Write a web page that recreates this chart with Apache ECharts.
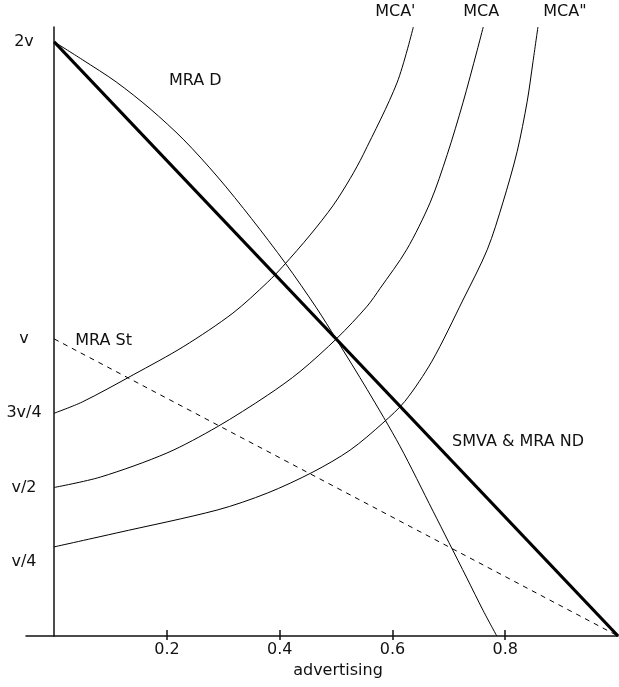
<!DOCTYPE html>
<html>
<head>
<meta charset="utf-8">
<script src="https://cdn.jsdelivr.net/npm/echarts@6/dist/echarts.min.js"></script>
<style>
html,body{margin:0;padding:0;background:#fff;}
#chart{width:619px;height:687px;}
</style>
</head>
<body>
<div id="chart"></div>
<script>
// ---- data (x = advertising, y in units of v) ----
const smvaMraNd = [[0, 2], [1, 0]];
const mraSt = [[0, 1], [1, 0]];
const mraD = [[0, 2], [0.05, 1.94], [0.11, 1.865], [0.17, 1.775], [0.23, 1.67], [0.29, 1.545], [0.35, 1.405], [0.41, 1.255], [0.465, 1.105], [0.5, 1.0], [0.555, 0.83], [0.613, 0.64], [0.672, 0.42], [0.70, 0.315], [0.732, 0.195], [0.761, 0.085], [0.785, 0]];
const mcaPrime = [[0, 0.75], [0.05, 0.788], [0.14, 0.879], [0.23, 0.975], [0.317, 1.087], [0.378, 1.19], [0.406, 1.245], [0.454, 1.35], [0.495, 1.45], [0.525, 1.54], [0.548, 1.62], [0.608, 1.862], [0.637, 2.05]];
const mca = [[0, 0.5], [0.082, 0.535], [0.2, 0.616], [0.289, 0.704], [0.378, 0.81], [0.436, 0.89], [0.502, 1.003], [0.555, 1.11], [0.578, 1.17], [0.625, 1.30], [0.667, 1.46], [0.697, 1.62], [0.725, 1.795], [0.75, 1.97], [0.761, 2.05]];
const mcaDouble = [[0, 0.3], [0.111, 0.347], [0.289, 0.424], [0.378, 0.481], [0.459, 0.552], [0.525, 0.626], [0.583, 0.717], [0.622, 0.79], [0.67, 0.925], [0.725, 1.131], [0.768, 1.30], [0.796, 1.46], [0.821, 1.63], [0.839, 1.8], [0.849, 1.93], [0.858, 2.05]];
const xTickValues = [0.2, 0.4, 0.6, 0.8];
const yTickValues = [0.25, 0.5, 0.75, 1, 2];
const yTickLabels = ['v/4', 'v/2', '3v/4', 'v', '2v'];
const seriesNames = ["SMVA & MRA ND", "MRA St", "MRA D", "MCA'", "MCA", "MCA\""];
const xAxisName = 'advertising';

const FONT = 'DejaVu Sans';
const TXT = '#111';

function withLabel(points, idx, label) {
  return points.map((p, i) => i === idx
    ? { value: p, label: Object.assign({ show: true, position: 'inside', fontFamily: FONT, fontSize: 16, color: TXT }, label) }
    : { value: p });
}

function lineSeries(name, data, lineStyle, smooth) {
  return {
    name: name, type: 'line', data: data,
    showSymbol: true, symbol: 'circle', symbolSize: 0,
    smooth: smooth, clip: false,
    lineStyle: Object.assign({ color: '#000', width: 1 }, lineStyle),
    label: { show: false },
    emphasis: { disabled: true },
    silent: true, z: 3
  };
}

const chart = echarts.init(document.getElementById('chart'), null, { renderer: 'canvas' });
chart.setOption({
  animation: false,
  backgroundColor: '#fff',
  grid: { left: 26, right: 1, top: 27, bottom: 51, containLabel: false, outerBoundsMode: 'none' },
  xAxis: [{
    type: 'value', min: -0.05, max: 1,
    axisLine: { onZero: true, lineStyle: { color: '#111', width: 1.5 } },
    axisTick: { show: true, inside: false, length: 4, customValues: xTickValues, lineStyle: { color: '#111', width: 1.5 } },
    axisLabel: { customValues: xTickValues, margin: 6, fontFamily: FONT, fontSize: 16, color: TXT },
    splitLine: { show: false },
    name: xAxisName, nameLocation: 'middle', nameGap: 24,
    nameTextStyle: { fontFamily: FONT, fontSize: 16, color: TXT, padding: [0, 0, 0, 32] }
  }, {
    type: 'value', min: -0.05, max: 1, position: 'bottom',
    axisLine: { show: false, onZero: true },
    axisTick: { show: true, inside: true, length: 6, customValues: xTickValues, lineStyle: { color: '#111', width: 1.5 } },
    axisLabel: { show: false },
    splitLine: { show: false }
  }],
  yAxis: {
    type: 'value', min: 0, max: 2.05,
    axisLine: { show: true, onZero: true, lineStyle: { color: '#111', width: 1.5 } },
    axisTick: { show: false },
    axisLabel: {
      customValues: yTickValues, margin: 2, align: 'center',
      fontFamily: FONT, fontSize: 16, color: TXT,
      formatter: v => yTickLabels[yTickValues.indexOf(v)]
    },
    splitLine: { show: false }
  },
  series: [
    lineSeries(seriesNames[0], withLabel(smvaMraNd, 1, { formatter: seriesNames[0], align: 'left', offset: [-166, -194] }), { width: 3 }, false),
    lineSeries(seriesNames[1], withLabel(mraSt, 0, { formatter: seriesNames[1], align: 'left', offset: [21, 2] }), { type: [5, 5] }, false),
    lineSeries(seriesNames[2], withLabel(mraD, 0, { formatter: seriesNames[2], offset: [141, 39] }), {}, 0.3),
    lineSeries(seriesNames[3], withLabel(mcaPrime, mcaPrime.length - 1, { formatter: seriesNames[3], offset: [-18, -15] }), {}, 0.3),
    lineSeries(seriesNames[4], withLabel(mca, mca.length - 1, { formatter: seriesNames[4], offset: [-2, -15] }), {}, 0.3),
    lineSeries(seriesNames[5], withLabel(mcaDouble, mcaDouble.length - 1, { formatter: seriesNames[5], offset: [27, -15] }), {}, 0.3)
  ]
});
</script>
</body>
</html>
